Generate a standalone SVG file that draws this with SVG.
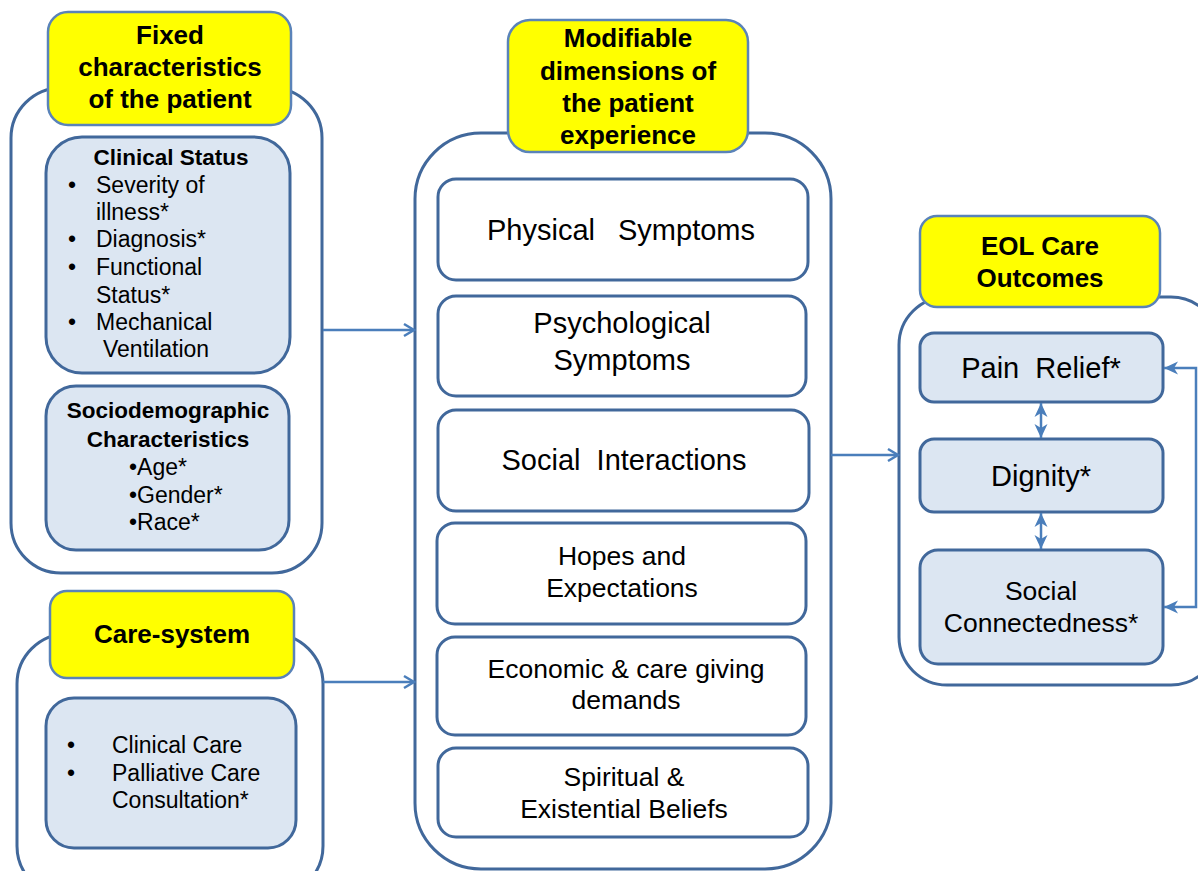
<svg xmlns="http://www.w3.org/2000/svg" width="1198" height="871" viewBox="0 0 1198 871">
<style>
.outer{fill:#ffffff;stroke:#41689b;stroke-width:3}
.head{fill:#ffff00;stroke:#5a83b9;stroke-width:2.5}
.blue{fill:#dce6f2;stroke:#41689b;stroke-width:3}
.white{fill:#ffffff;stroke:#41689b;stroke-width:3}
text{font-family:"Liberation Sans",Arial,sans-serif;fill:#000}
.h{font-size:26px;font-weight:bold;text-anchor:middle}
.b{font-size:22.5px;font-weight:bold;text-anchor:middle}
.t{font-size:23px}
.m{font-size:29px;text-anchor:middle}
.ml{font-size:29px}
.s{font-size:26.5px;text-anchor:middle}
.con{fill:none;stroke:#4a7ebb;stroke-width:2.5}
</style>
<defs>
<marker id="open" markerUnits="userSpaceOnUse" markerWidth="14" markerHeight="16" refX="12" refY="8" orient="auto">
<path d="M2,2 L12,8 L2,14" fill="none" stroke="#4a7ebb" stroke-width="2.5"/>
</marker>
<marker id="fill" markerUnits="userSpaceOnUse" markerWidth="16" markerHeight="14" refX="14" refY="7" orient="auto-start-reverse">
<path d="M0,0.5 L14,7 L0,13.5 L4,7 Z" fill="#4a7ebb"/>
</marker>
</defs>

<g id="fixed">
<rect class="outer" x="11" y="88" width="311" height="485" rx="50"/>
<rect class="head" x="48" y="12" width="243" height="113" rx="20"/>
<text class="h" x="170" y="44">Fixed</text>
<text class="h" x="170" y="76">characteristics</text>
<text class="h" x="170" y="108">of the patient</text>
</g>

<g id="clinical-status">
<rect class="blue" x="46" y="137" width="244" height="236" rx="36"/>
<text class="b" x="171" y="165">Clinical Status</text>
<text class="t" x="68" y="193">•</text><text class="t" x="96" y="193">Severity of</text>
<text class="t" x="96" y="220">illness*</text>
<text class="t" x="68" y="247">•</text><text class="t" x="96" y="247">Diagnosis*</text>
<text class="t" x="68" y="275">•</text><text class="t" x="96" y="275">Functional</text>
<text class="t" x="96" y="303">Status*</text>
<text class="t" x="68" y="330">•</text><text class="t" x="96" y="330">Mechanical</text>
<text class="t" x="103" y="357">Ventilation</text>
</g>

<g id="sociodemographic">
<rect class="blue" x="46" y="386" width="243" height="164" rx="30"/>
<text class="b" x="168" y="418">Sociodemographic</text>
<text class="b" x="168" y="447">Characteristics</text>
<text class="t" x="129" y="475">•Age*</text>
<text class="t" x="129" y="503">•Gender*</text>
<text class="t" x="129" y="530">•Race*</text>
</g>

<g id="care-system">
<rect class="outer" x="17" y="634" width="306" height="262" rx="50"/>
<rect class="head" x="50" y="591" width="244" height="87" rx="17"/>
<text class="h" x="172" y="643">Care-system</text>
</g>

<g id="care-items">
<rect class="blue" x="46" y="698" width="250" height="150" rx="28"/>
<text class="t" x="67" y="753">•</text><text class="t" x="112" y="753">Clinical Care</text>
<text class="t" x="67" y="781">•</text><text class="t" x="112" y="781">Palliative Care</text>
<text class="t" x="112" y="808">Consultation*</text>
</g>

<g id="modifiable">
<rect class="outer" x="415" y="133" width="416" height="736" rx="66"/>
<rect class="head" x="508" y="20" width="240" height="132" rx="22"/>
<text class="h" x="628" y="47">Modifiable</text>
<text class="h" x="628" y="80">dimensions of</text>
<text class="h" x="628" y="112">the patient</text>
<text class="h" x="628" y="144">experience</text>
</g>

<g id="physical">
<rect class="white" x="438" y="179" width="370" height="101" rx="18"/>
<text class="ml" x="487" y="240">Physical</text>
<text class="ml" x="618" y="240">Symptoms</text>
</g>
<g id="psychological">
<rect class="white" x="438" y="296" width="368" height="100" rx="18"/>
<text class="m" x="622" y="333">Psychological</text>
<text class="m" x="622" y="370">Symptoms</text>
</g>
<g id="social-interactions">
<rect class="white" x="438" y="410" width="371" height="101" rx="18"/>
<text class="m" x="624" y="470" xml:space="preserve">Social  Interactions</text>
</g>
<g id="hopes">
<rect class="white" x="437" y="523" width="369" height="101" rx="18"/>
<text class="s" x="622" y="565">Hopes and</text>
<text class="s" x="622" y="597">Expectations</text>
</g>
<g id="economic">
<rect class="white" x="437" y="637" width="369" height="98" rx="18"/>
<text class="s" x="626" y="678">Economic &amp; care giving</text>
<text class="s" x="626" y="709">demands</text>
</g>
<g id="spiritual">
<rect class="white" x="438" y="748" width="370" height="89" rx="18"/>
<text class="s" x="624" y="786">Spiritual &amp;</text>
<text class="s" x="624" y="818">Existential Beliefs</text>
</g>

<g id="eol">
<rect class="outer" x="899" y="297" width="320" height="388" rx="48"/>
<rect class="head" x="920" y="216" width="240" height="91" rx="17"/>
<text class="h" x="1040" y="255">EOL Care</text>
<text class="h" x="1040" y="287">Outcomes</text>
</g>
<g id="pain-relief">
<rect class="blue" x="920" y="333" width="243" height="69" rx="14"/>
<text class="m" x="1041" y="378" xml:space="preserve">Pain  Relief*</text>
</g>
<g id="dignity">
<rect class="blue" x="920" y="439" width="243" height="73" rx="14"/>
<text class="m" x="1041" y="486">Dignity*</text>
</g>
<g id="social-connectedness">
<rect class="blue" x="920" y="550" width="243" height="114" rx="18"/>
<text class="s" x="1041" y="600">Social</text>
<text class="s" x="1041" y="632">Connectedness*</text>
</g>

<g id="connectors">
<path class="con" d="M323,330 L414,330" marker-end="url(#open)"/>
<path class="con" d="M323,682 L414,682" marker-end="url(#open)"/>
<path class="con" d="M831,455 L898,455" marker-end="url(#open)"/>
<path class="con" d="M1041,403 L1041,438" marker-start="url(#fill)" marker-end="url(#fill)"/>
<path class="con" d="M1041,513 L1041,549" marker-start="url(#fill)" marker-end="url(#fill)"/>
<path class="con" d="M1164,368 L1196,368 L1196,607 L1164,607" marker-start="url(#fill)" marker-end="url(#fill)"/>
</g>
</svg>
